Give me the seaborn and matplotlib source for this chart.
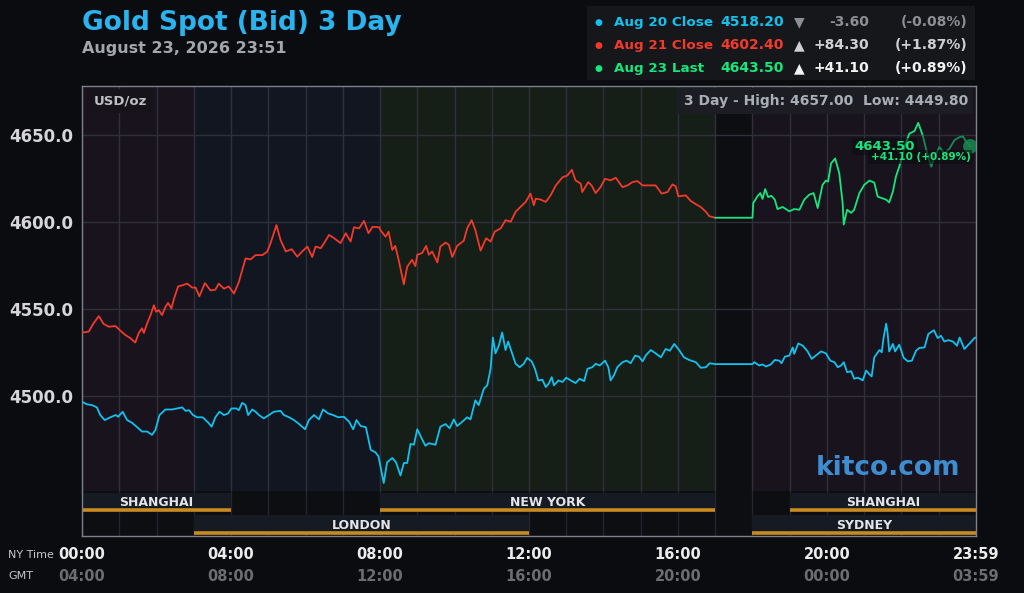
import matplotlib
matplotlib.use("Agg")
import matplotlib.pyplot as plt
import matplotlib.transforms as mtransforms
from matplotlib.patches import Rectangle
from matplotlib.ticker import MultipleLocator
import pandas as pd
import seaborn as sns

# ---- data (hours since NY midnight, USD/oz) ----
hours_aug20 = [0.00, 0.13, 0.27, 0.40, 0.49, 0.61, 0.76, 0.90, 0.97, 1.09, 1.21, 1.34, 1.48, 1.61, 1.75,
               1.88, 1.97, 2.08, 2.24, 2.42, 2.55, 2.69, 2.78, 2.87, 2.98, 3.09, 3.24, 3.39, 3.48, 3.58,
               3.69, 3.81, 3.92, 4.01, 4.14, 4.21, 4.30, 4.39, 4.46, 4.57, 4.66, 4.75, 4.88, 5.02, 5.15,
               5.33, 5.42, 5.56, 5.69, 5.83, 5.99, 6.09, 6.23, 6.36, 6.47, 6.61, 6.74, 6.88, 7.03, 7.17,
               7.28, 7.37, 7.48, 7.62, 7.75, 7.88, 7.96, 8.10, 8.19, 8.33, 8.43, 8.55, 8.64, 8.73, 8.82,
               8.91, 9.00, 9.13, 9.22, 9.31, 9.49, 9.62, 9.76, 9.87, 9.98, 10.07, 10.21, 10.34, 10.43,
               10.56, 10.65, 10.79, 10.88, 10.97, 11.03, 11.10, 11.19, 11.28, 11.37, 11.44, 11.55, 11.64,
               11.75, 11.86, 11.95, 12.07, 12.16, 12.25, 12.36, 12.45, 12.53, 12.61, 12.67, 12.79, 12.90,
               13.00, 13.12, 13.25, 13.36, 13.48, 13.57, 13.70, 13.79, 13.90, 14.04, 14.13, 14.19, 14.28,
               14.37, 14.51, 14.62, 14.73, 14.85, 14.95, 15.05, 15.13, 15.27, 15.40, 15.54, 15.67, 15.78,
               15.90, 16.03, 16.16, 16.30, 16.48, 16.61, 16.75, 16.85, 17.00, 18.00, 18.05, 18.18, 18.27,
               18.36, 18.49, 18.60, 18.72, 18.78, 18.87, 18.99, 19.08, 19.12, 19.23, 19.35, 19.48, 19.59,
               19.70, 19.84, 19.97, 20.09, 20.20, 20.29, 20.38, 20.45, 20.54, 20.65, 20.73, 20.83, 20.96,
               21.05, 21.14, 21.20, 21.27, 21.41, 21.47, 21.52, 21.59, 21.63, 21.67, 21.77, 21.83, 21.94,
               22.06, 22.17, 22.28, 22.39, 22.48, 22.62, 22.72, 22.87, 22.97, 23.06, 23.15, 23.26, 23.38,
               23.49, 23.56, 23.69, 23.83, 23.96, 23.99]
price_aug20 = [4496.5, 4495.1, 4494.6, 4493.3, 4488.9, 4486.0, 4487.6, 4488.9, 4487.9, 4490.8, 4486.0,
               4484.5, 4481.9, 4479.4, 4479.4, 4477.5, 4480.3, 4488.9, 4492.1, 4492.1, 4492.7, 4493.3,
               4491.3, 4491.7, 4488.9, 4487.6, 4487.6, 4484.5, 4482.2, 4487.6, 4490.8, 4488.9, 4489.8,
               4492.7, 4492.7, 4491.7, 4495.9, 4494.6, 4488.9, 4492.1, 4490.8, 4488.9, 4487.0, 4488.9,
               4490.8, 4491.3, 4488.9, 4487.6, 4486.0, 4483.7, 4480.7, 4486.0, 4488.9, 4486.4, 4492.1,
               4489.8, 4488.9, 4487.6, 4487.9, 4485.1, 4480.7, 4486.0, 4482.6, 4481.9, 4468.9, 4467.4,
               4465.1, 4449.8, 4461.7, 4464.2, 4461.7, 4454.1, 4461.3, 4461.3, 4472.3, 4471.8, 4480.7,
               4475.0, 4471.2, 4472.7, 4471.8, 4482.2, 4483.7, 4481.3, 4486.4, 4482.6, 4485.1, 4487.6,
               4486.4, 4497.4, 4494.6, 4504.1, 4506.0, 4515.5, 4533.5, 4524.4, 4528.8, 4536.4, 4526.3,
               4531.2, 4524.1, 4518.4, 4516.4, 4518.4, 4521.8, 4519.8, 4515.5, 4508.8, 4509.2, 4505.0,
               4507.0, 4510.7, 4506.0, 4508.8, 4507.9, 4510.4, 4508.8, 4507.3, 4509.8, 4508.4, 4515.5,
               4516.4, 4518.4, 4517.4, 4520.2, 4516.4, 4508.8, 4511.7, 4516.4, 4519.3, 4520.2, 4518.7,
               4523.1, 4522.5, 4519.8, 4523.1, 4526.3, 4524.4, 4522.1, 4526.9, 4525.9, 4529.8, 4526.3,
               4522.1, 4520.6, 4519.3, 4516.1, 4516.4, 4518.7, 4518.2, 4518.2, 4519.3, 4517.4, 4518.0,
               4516.8, 4518.0, 4520.6, 4520.2, 4518.7, 4522.5, 4523.1, 4527.8, 4524.1, 4530.1, 4528.8,
               4525.5, 4521.2, 4523.1, 4525.5, 4524.4, 4520.2, 4519.3, 4516.4, 4517.4, 4519.3, 4513.6,
               4514.1, 4509.8, 4510.4, 4508.8, 4514.5, 4512.3, 4511.1, 4522.1, 4526.3, 4525.0, 4533.5,
               4541.5, 4535.5, 4525.5, 4529.8, 4525.5, 4529.4, 4521.8, 4519.8, 4520.2, 4525.9, 4527.5,
               4527.8, 4535.5, 4537.7, 4533.2, 4534.5, 4531.2, 4532.0, 4531.2, 4528.8, 4533.5, 4526.9,
               4530.1, 4533.2, 4533.5]

hours_aug21 = [0.00, 0.18, 0.31, 0.45, 0.58, 0.72, 0.90, 1.03, 1.16, 1.30, 1.43, 1.52, 1.61, 1.66, 1.75,
               1.84, 1.93, 1.99, 2.06, 2.15, 2.24, 2.31, 2.40, 2.47, 2.58, 2.69, 2.82, 2.96, 3.05, 3.15,
               3.30, 3.45, 3.58, 3.67, 3.81, 3.94, 4.08, 4.21, 4.39, 4.52, 4.66, 4.84, 4.97, 5.06, 5.22,
               5.33, 5.47, 5.63, 5.78, 5.91, 6.05, 6.18, 6.27, 6.41, 6.50, 6.63, 6.77, 6.94, 7.08, 7.21,
               7.30, 7.44, 7.57, 7.69, 7.80, 7.98, 8.01, 8.15, 8.23, 8.33, 8.41, 8.50, 8.64, 8.73, 8.86,
               8.95, 9.00, 9.13, 9.24, 9.31, 9.40, 9.54, 9.62, 9.76, 9.85, 9.94, 10.07, 10.25, 10.34,
               10.46, 10.56, 10.70, 10.85, 10.97, 11.08, 11.24, 11.37, 11.51, 11.64, 11.77, 11.91, 12.04,
               12.13, 12.18, 12.31, 12.45, 12.58, 12.72, 12.90, 13.03, 13.15, 13.25, 13.39, 13.43, 13.59,
               13.68, 13.79, 13.92, 14.04, 14.19, 14.33, 14.51, 14.64, 14.78, 14.91, 15.05, 15.22, 15.40,
               15.56, 15.72, 15.85, 15.94, 16.01, 16.21, 16.34, 16.48, 16.61, 16.75, 16.84, 17.00]
price_aug21 = [4536.3, 4536.9, 4541.7, 4545.8, 4541.3, 4539.7, 4540.1, 4537.4, 4535.0, 4533.1, 4530.6,
               4536.0, 4538.8, 4536.1, 4541.7, 4546.4, 4552.1, 4548.3, 4549.2, 4546.4, 4551.1, 4553.4,
               4550.2, 4555.9, 4562.9, 4563.5, 4564.5, 4562.2, 4562.2, 4557.2, 4564.8, 4560.6, 4561.0,
               4564.5, 4561.6, 4562.9, 4558.8, 4565.4, 4579.0, 4578.4, 4580.9, 4580.9, 4582.8, 4587.7,
               4598.2, 4589.6, 4583.0, 4584.3, 4580.0, 4583.0, 4585.8, 4579.8, 4585.8, 4584.9, 4587.8,
               4592.5, 4590.6, 4587.8, 4593.5, 4588.7, 4596.9, 4596.3, 4600.6, 4593.5, 4597.2, 4596.9,
               4595.3, 4591.5, 4594.4, 4583.9, 4586.2, 4578.2, 4564.1, 4574.2, 4578.2, 4574.6, 4581.1,
               4582.1, 4586.2, 4581.1, 4583.0, 4576.7, 4585.8, 4588.1, 4586.8, 4579.8, 4586.2, 4589.2,
               4596.3, 4601.0, 4595.3, 4583.5, 4590.6, 4588.7, 4594.4, 4596.3, 4601.0, 4600.1, 4605.8,
               4608.6, 4611.5, 4616.3, 4609.6, 4613.4, 4612.9, 4611.5, 4615.3, 4621.0, 4625.7, 4626.7,
               4630.0, 4623.9, 4622.0, 4617.2, 4622.9, 4621.0, 4616.6, 4620.0, 4624.8, 4623.9, 4625.4,
               4620.0, 4621.0, 4622.9, 4623.5, 4621.0, 4621.0, 4621.0, 4616.3, 4617.2, 4621.6, 4620.4,
               4614.7, 4615.3, 4612.1, 4610.2, 4608.6, 4605.8, 4603.3, 4602.4]

hours_aug23 = [17.00, 18.00, 18.02, 18.09, 18.14, 18.21, 18.27, 18.34, 18.42, 18.51, 18.60, 18.67, 18.81,
               18.99, 19.12, 19.26, 19.39, 19.52, 19.64, 19.75, 19.88, 19.97, 20.03, 20.11, 20.22, 20.33,
               20.42, 20.45, 20.54, 20.65, 20.73, 20.87, 21.00, 21.14, 21.27, 21.36, 21.47, 21.59, 21.67,
               21.77, 21.85, 21.97, 22.08, 22.21, 22.35, 22.45, 22.57, 22.69, 22.80, 22.88, 23.02, 23.15,
               23.29, 23.42, 23.56, 23.65, 23.74, 23.85]
price_aug23 = [4602.4, 4602.4, 4610.9, 4613.2, 4615.0, 4616.6, 4613.2, 4618.9, 4614.3, 4615.0, 4612.8,
               4607.4, 4608.6, 4606.1, 4607.4, 4607.0, 4612.8, 4615.6, 4616.6, 4608.0, 4621.3, 4623.8,
               4623.2, 4633.7, 4636.5, 4628.0, 4610.9, 4598.5, 4607.0, 4605.2, 4607.0, 4616.6, 4621.3,
               4623.8, 4622.6, 4614.6, 4613.7, 4612.8, 4611.2, 4617.5, 4626.0, 4633.7, 4643.1, 4650.8,
               4652.3, 4657.0, 4649.8, 4639.4, 4631.7, 4637.4, 4643.1, 4639.4, 4642.2, 4647.0, 4648.8,
               4649.2, 4646.0, 4643.5]

tick_hours = [0, 4, 8, 12, 16, 20, 24]
ny_labels = ["00:00", "04:00", "08:00", "12:00", "16:00", "20:00", "23:59"]
gmt_labels = ["04:00", "08:00", "12:00", "16:00", "20:00", "00:00", "03:59"]
price_ticks = [4500, 4550, 4600, 4650]

region_start = [0, 3, 8, 17, 18]
region_end = [3, 8, 17, 18, 24]
region_color = ["#19131e", "#121621", "#161e18", "#0d0e11", "#19131e"]

session_names = ["SHANGHAI", "NEW YORK", "SHANGHAI", "LONDON", "SYDNEY"]
session_start = [0, 8, 19, 3, 18]
session_end = [4, 17, 24, 12, 24]
session_row = [1, 1, 1, 0, 0]

legend_names = ["Aug 20 Close", "Aug 21 Close", "Aug 23 Last"]
legend_values = ["4518.20", "4602.40", "4643.50"]
legend_arrows = ["\u25bc", "\u25b2", "\u25b2"]
legend_change = ["-3.60", "+84.30", "+41.10"]
legend_pct = ["(-0.08%)", "(+1.87%)", "(+0.89%)"]

CYAN, RED, GREEN, GREEN_DIM = "#13c1ee", "#f23a2b", "#16e67b", "#178a50"
BG, GRID, FRAME = "#0b0c10", "#2e313a", "#7c818b"

sns.set_theme(style="dark", rc={"axes.facecolor": BG, "figure.facecolor": BG})
plt.rcParams["font.family"] = ["DejaVu Sans"]

df20 = pd.DataFrame({"hour": hours_aug20, "price": price_aug20})
df21 = pd.DataFrame({"hour": hours_aug21, "price": price_aug21})
df23 = pd.DataFrame({"hour": hours_aug23, "price": price_aug23})

fig = plt.figure(figsize=(10.24, 5.93), dpi=100)
ax = fig.add_axes([0.0801, 0.1720, 0.8730, 0.6830])
ax_s = fig.add_axes([0.0801, 0.0961, 0.8730, 0.0759], sharex=ax)

# background bands for the trading periods
for s, e, c in zip(region_start, region_end, region_color):
    ax.axvspan(s, e, color=c, lw=0, zorder=0)

ax.xaxis.set_minor_locator(MultipleLocator(1))
ax.grid(which="both", axis="x", color=GRID, lw=1)
ax.grid(which="major", axis="y", color=GRID, lw=1)

sns.lineplot(data=df20, x="hour", y="price", color=CYAN, lw=1.3, estimator=None, sort=False, ax=ax, zorder=3)
sns.lineplot(data=df21, x="hour", y="price", color=RED, lw=1.3, estimator=None, sort=False, ax=ax, zorder=3)
sns.lineplot(data=df23[df23.hour <= 22.57], x="hour", y="price", color=GREEN, lw=1.3,
             estimator=None, sort=False, ax=ax, zorder=3)
sns.lineplot(data=df23[df23.hour >= 22.57], x="hour", y="price", color=GREEN_DIM, lw=1.3,
             estimator=None, sort=False, ax=ax, zorder=3)
last = df23.iloc[-1]
ax.scatter([last.hour], [last.price], s=110, color=GREEN_DIM, alpha=0.85, edgecolor="none", zorder=4)

ax.set_xlim(0, 24)
ax.set_ylim(4445.2, 4678.2)
ax.set_yticks(price_ticks)
ax.set_yticklabels([f"{v:.1f}" for v in price_ticks], fontsize=12, fontweight="bold", color="#d6d6d8")
ax.tick_params(axis="y", length=0, pad=6)
ax.tick_params(axis="x", which="both", length=0, labelbottom=False)
ax.set_xlabel("")
ax.set_ylabel("")
for side in ["left", "top", "right"]:
    ax.spines[side].set_visible(True)
    ax.spines[side].set_color(FRAME)
    ax.spines[side].set_linewidth(1)
ax.spines["bottom"].set_visible(False)

ax.text(0.0134, 0.963, "USD/oz", transform=ax.transAxes, fontsize=9.5, fontweight="bold",
        color="#bfc0c4", va="center", ha="left",
        bbox=dict(facecolor="#16131a", edgecolor="none", pad=4))
ax.text(0.991, 0.963, "3 Day - High: 4657.00  Low: 4449.80", transform=ax.transAxes, fontsize=10,
        fontweight="bold", color="#a9adb5", va="center", ha="right",
        bbox=dict(facecolor="#1b1d22", edgecolor="none", pad=4))
ax.text(0.9016, 0.0568, "kitco.com", transform=ax.transAxes, fontsize=19, fontweight="bold",
        color="#3d8dd0", va="center", ha="center", zorder=2)

ax.annotate("4643.50", xy=(last.hour, last.price), xytext=(-40, 0), textcoords="offset points",
            fontsize=9.5, fontweight="bold", color=GREEN, ha="right", va="center", zorder=5,
            bbox=dict(facecolor="#0c0d10", edgecolor="none", alpha=0.55, pad=1.5))
ax.annotate("+41.10 (+0.89%)", xy=(last.hour, last.price), xytext=(0, -8), textcoords="offset points",
            fontsize=7.5, fontweight="bold", color=GREEN, ha="right", va="center", zorder=5,
            bbox=dict(facecolor="#0c0d10", edgecolor="none", alpha=0.55, pad=1.5))

# market sessions strip
ax_s.set_facecolor("#0d0e12")
ax_s.set_ylim(0, 2)
ax_s.grid(which="both", axis="x", color="#23262e", lw=1, zorder=1.5)
ax_s.grid(axis="y", visible=False)
sess = pd.DataFrame({"name": session_names, "start": session_start, "end": session_end, "row": session_row})
ax_s.barh(sess.row + 0.5, sess.end - sess.start, left=sess.start, height=0.85, color="#161a22",
          edgecolor="none", linewidth=0, zorder=1)
ax_s.hlines(sess.row + 0.14, sess.start, sess.end, color="#c98a1f", lw=2.6, zorder=2)
for _, r in sess.iterrows():
    ax_s.text((r.start + r.end) / 2, r.row + 0.2, r["name"], fontsize=9, fontweight="bold",
              color="#e4e5e8", ha="center", va="bottom", zorder=3)
ax_s.set_yticks([])
ax_s.set_xticks(tick_hours)
ax_s.set_xticklabels(ny_labels, fontsize=10.5, fontweight="bold", color="#ececec")
ax_s.tick_params(axis="x", which="both", length=0, pad=8)
for side in ["left", "bottom", "right"]:
    ax_s.spines[side].set_visible(True)
    ax_s.spines[side].set_color(FRAME)
    ax_s.spines[side].set_linewidth(1)
ax_s.spines["top"].set_visible(False)

gmt_tr = mtransforms.blended_transform_factory(ax_s.transData, fig.transFigure)
for h, lab in zip(tick_hours, gmt_labels):
    ax_s.text(h, 0.027, lab, transform=gmt_tr, fontsize=10.5, fontweight="bold", color="#6c6d71",
              ha="center", va="center", clip_on=False)
fig.text(0.008, 0.064, "NY Time", fontsize=8, color="#c8c8cc", va="center")
fig.text(0.008, 0.029, "GMT", fontsize=8, color="#c8c8cc", va="center")

# titles
fig.text(0.0801, 0.9612, "Gold Spot (Bid) 3 Day", fontsize=19, fontweight="bold", color="#2ab4ef", va="center")
fig.text(0.0801, 0.919, "August 23, 2026 23:51", fontsize=11.5, fontweight="bold", color="#a3a6ab", va="center")

# legend panel
fig.add_artist(Rectangle((587 / 1024, 1 - 80 / 593), 388 / 1024, 74 / 593, transform=fig.transFigure,
                         facecolor="#15171b", edgecolor="none", zorder=0))
row_y = [0.9629, 0.9241, 0.8853]
line_colors = [CYAN, RED, GREEN]
change_colors = ["#8d8f95", "#cfd0d3", "#f3f3f3"]
for y, name, val, arr, ch, pct, lc, cc in zip(row_y, legend_names, legend_values, legend_arrows,
                                              legend_change, legend_pct, line_colors, change_colors):
    fig.text(598 / 1024, y, "\u25cf", fontsize=6.5, color=lc, ha="center", va="center")
    fig.text(614 / 1024, y, name, fontsize=9.7, fontweight="bold", color=lc, ha="left", va="center")
    fig.text(784 / 1024, y, val, fontsize=10, fontweight="bold", color=lc, ha="right", va="center")
    fig.text(799 / 1024, y, arr, fontsize=10, color=cc, ha="center", va="center")
    fig.text(869 / 1024, y, ch, fontsize=10, fontweight="bold", color=cc, ha="right", va="center")
    fig.text(967 / 1024, y, pct, fontsize=10, fontweight="bold", color=cc, ha="right", va="center")

fig.savefig("out.png", dpi=100, facecolor=BG)
